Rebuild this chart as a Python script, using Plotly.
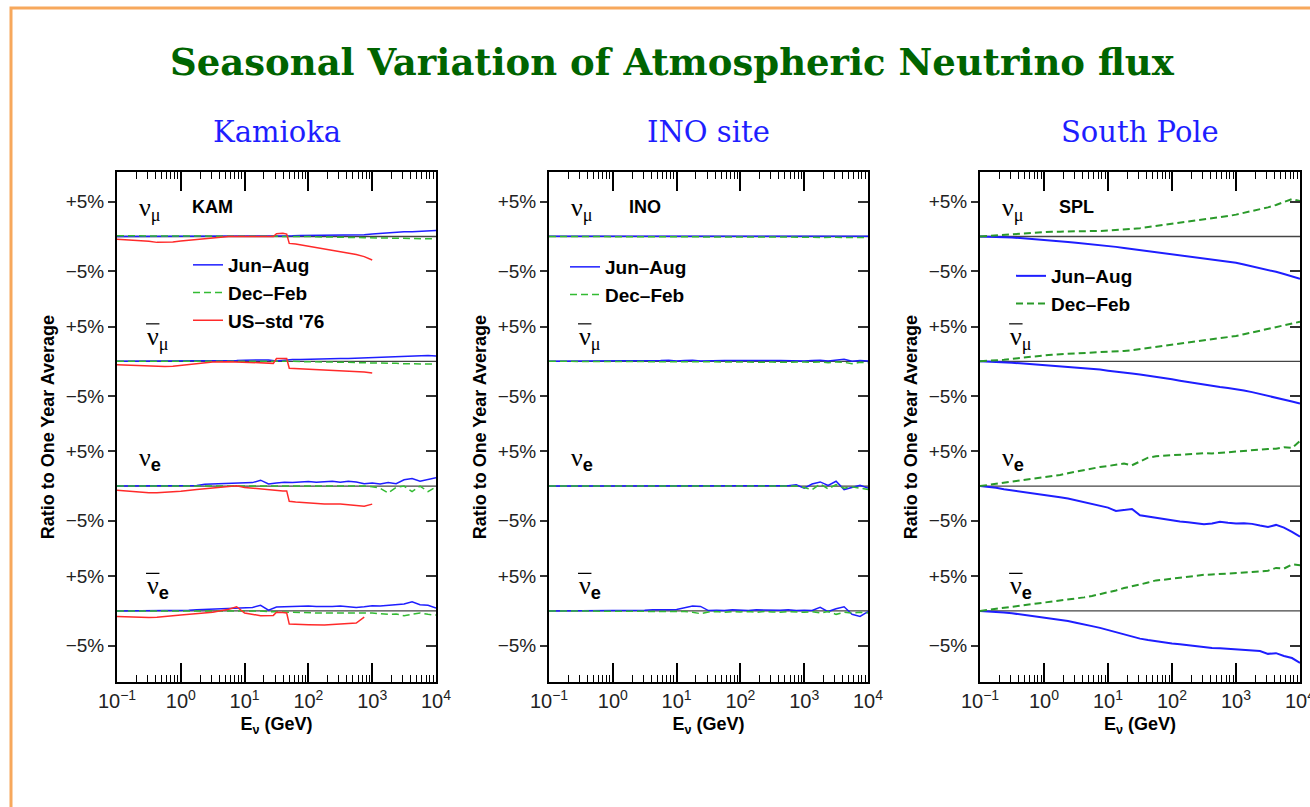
import plotly.graph_objects as go

# ---------------- data ----------------
ENERGY = [0.1, 0.133, 0.178, 0.237, 0.316, 0.422, 0.562, 0.750,
          1.0, 1.33, 1.78, 2.37, 3.16, 4.22, 5.62, 7.50,
          10, 13.3, 17.8, 23.7, 31.6, 42.2, 56.2, 75.0,
          100, 133, 178, 237, 316, 422, 562, 750,
          1000, 1330, 1780, 2370, 3160, 4220, 5620, 7500, 10000]
E_RED = [0.1, 0.178, 0.316, 0.422, 0.562, 0.75, 1.0, 1.78, 3.16, 5.62, 7.5, 10,
         17.8, 28.2, 31.6, 39.8, 45.7, 50.1, 63.1, 100, 178, 316, 562, 750, 1000]

OFFSETS = [0, -18, -36, -54]
PANEL_TITLES = ["Kamioka", "INO site", "South Pole"]
SITE_TAGS = ["KAM", "INO", "SPL"]
SERIES_NAMES = ["Jun\u2013Aug", "Dec\u2013Feb", "US\u2013std '76"]
X_TICK_VALS = [0.1, 1, 10, 100, 1000, 10000]
X_TICK_TEXT = ["10<sup>\u22121</sup>", "10<sup>0</sup>", "10<sup>1</sup>",
               "10<sup>2</sup>", "10<sup>3</sup>", "10<sup>4</sup>"]
Y_TICK_TEXT = ["+5%", "\u22125%"]

# Kamioka (% deviation from yearly average)
kam_numu_jun = [0, 0, 0, 0, 0, 0, 0, 0, 0.05, 0.05, 0.05, 0.05, 0.05, 0.05, 0.05, 0.05,
                0.05, 0.1, 0.1, 0.1, 0.1, 0.1, 0.1, 0.15, 0.15, 0.2, 0.2, 0.2, 0.2, 0.2, 0.2, 0.25,
                0.35, 0.45, 0.6, 0.65, 0.7, 0.7, 0.75, 0.8, 0.85]
kam_numu_dec = [0.1, 0.1, 0.1, 0.1, 0.1, 0.1, 0.1, 0.1, 0.1, 0.1, 0.1, 0.1, 0.1, 0.1, 0.1, 0.1,
                0.1, 0.08, 0.05, 0.05, 0.03, 0.0, 0.0, 0.0, 0.0, -0.05, -0.05, -0.1, -0.1, -0.12, -0.15, -0.18,
                -0.2, -0.22, -0.25, -0.28, -0.3, -0.3, -0.32, -0.35, -0.35]
kam_numu_us = [-0.4, -0.5, -0.7, -0.85, -0.85, -0.8, -0.65, -0.4, -0.15, 0.0, 0.0, 0.0,
               0.05, 0.0, 0.4, 0.45, 0.35, -1.0, -1.1, -1.4, -1.8, -2.2, -2.6, -2.9, -3.4]
kam_anumu_jun = [0, 0, 0, 0, 0, 0, 0, 0, 0.05, 0.05, 0.1, 0.1, 0.1, 0.1, 0.1, 0.1,
                 0.15, 0.15, 0.2, 0.2, 0.05, 0.2, 0.25, 0.25, 0.3, 0.3, 0.35, 0.35, 0.4, 0.4, 0.45, 0.5,
                 0.55, 0.6, 0.65, 0.7, 0.75, 0.8, 0.9, 0.85, 0.75]
kam_anumu_dec = [0, 0, 0, 0, 0, 0, 0, 0.05, 0.05, 0.1, 0.1, 0.1, 0.1, 0.1, 0.1, 0.1,
                 0.1, 0.05, 0.05, 0.05, 0.0, 0.0, 0.0, -0.05, -0.05, -0.1, -0.1, -0.1, -0.15, -0.15, -0.2, -0.2,
                 -0.2, -0.25, -0.25, -0.3, -0.35, -0.35, -0.4, -0.4, -0.4]
kam_anumu_us = [-0.5, -0.6, -0.7, -0.75, -0.75, -0.7, -0.6, -0.3, -0.1, -0.05, -0.1, -0.15,
                -0.25, -0.3, 0.4, 0.45, 0.4, -1.0, -1.05, -1.1, -1.25, -1.35, -1.55, -1.55, -1.7]
kam_nue_jun = [0, 0, 0, 0, 0, 0, 0, 0, 0, 0.05, 0.1, 0.25, 0.3, 0.35, 0.4, 0.45,
               0.4, 0.5, 0.85, 0.3, 0.45, 0.55, 0.5, 0.6, 0.65, 0.55, 0.6, 0.7, 0.55, 0.7, 0.6, 0.35,
               0.45, 0.3, 0.5, 0.35, 0.9, 1.1, 0.7, 0.9, 1.2]
kam_nue_dec = [0, 0, 0, 0, 0, 0, 0, 0, 0.05, 0.05, 0.05, 0.05, 0.05, 0.05, 0.05, 0.05,
               0.05, 0.05, 0.05, 0.0, 0.0, 0.0, 0.0, 0.0, 0.0, 0.0, 0.0, 0.0, 0.0, 0.0, 0.0, 0.0,
               -0.1, -0.3, -1.0, -0.2, 0.0, -0.8, 0.0, -0.8, -0.1]
kam_nue_us = [-0.6, -0.8, -0.95, -0.95, -0.9, -0.8, -0.75, -0.5, -0.25, -0.1, 0.05, -0.2,
              -0.45, -0.6, -0.65, -0.7, -0.7, -2.2, -2.3, -2.45, -2.6, -2.6, -2.85, -2.9, -2.6]
kam_anue_jun = [0, 0, 0, 0, 0, 0, 0, 0, 0, 0.1, 0.15, 0.2, 0.25, 0.25, 0.25, 0.3,
                0.4, 0.5, 0.8, 0.1, 0.55, 0.6, 0.65, 0.65, 0.7, 0.65, 0.6, 0.65, 0.7, 0.6, 0.5, 0.6,
                0.75, 0.7, 0.8, 0.85, 1.0, 1.3, 0.9, 0.8, 0.4]
kam_anue_dec = [0, 0, 0, 0, 0, 0, 0, 0, 0, 0, 0, 0, 0.05, 0.05, 0.05, 0.05,
                0.0, 0.0, 0.0, -0.1, -0.15, -0.2, -0.25, -0.3, -0.3, -0.3, -0.3, -0.35, -0.3, -0.3, -0.35, -0.3,
                -0.3, -0.4, -0.5, -0.45, -0.7, -0.5, -0.3, -0.5, -0.6]
kam_anue_us = [-0.8, -0.9, -0.95, -0.9, -0.85, -0.7, -0.6, -0.45, -0.2, 0.25, 0.6, -0.3,
               -0.7, -0.65, -0.2, -0.25, -0.3, -1.9, -1.95, -2.0, -2.05, -1.85, -1.75, -0.9, None]

# INO site
ino_numu_jun = [0.05, 0.05, 0.05, 0.05, 0.05, 0.05, 0.05, 0.05, 0.05, 0.05, 0.1, 0.1, 0.1, 0.1, 0.1, 0.1,
                0.1, 0.1, 0.1, 0.1, 0.1, 0.1, 0.1, 0.1, 0.1, 0.1, 0.1, 0.05, 0.05, 0.05, 0.05, 0.05,
                0.05, 0.05, 0.05, 0.05, 0.05, 0.05, 0.05, 0.05, 0.05]
ino_numu_dec = [0, 0, 0, 0, 0, 0, 0, -0.05, -0.05, -0.05, -0.1, -0.05, -0.05, -0.1, -0.05, -0.05,
                -0.1, -0.05, -0.1, -0.05, -0.1, -0.05, -0.1, -0.05, -0.1, -0.05, -0.1, -0.1, -0.05, -0.1, -0.1, -0.05,
                -0.1, -0.1, -0.15, -0.1, -0.1, -0.15, -0.15, -0.1, -0.15]
ino_anumu_jun = [0, 0, 0, 0, 0, 0, 0, 0, 0.05, 0.05, 0.05, 0.1, 0.05, 0.1, 0.1, 0.15,
                 0.05, 0.1, 0.15, 0.05, 0.1, 0.05, 0.1, 0.1, 0.05, 0.1, 0.1, 0.05, 0.1, 0.1, 0.05, 0.1,
                 0.05, 0.1, 0.15, 0.05, 0.15, 0.3, 0.0, 0.1, 0.05]
ino_anumu_dec = [0, 0, 0, 0, 0, 0, 0, -0.05, -0.05, -0.05, -0.1, -0.05, -0.1, -0.05, -0.1, -0.05,
                 -0.1, -0.05, -0.1, -0.1, -0.05, -0.1, -0.1, -0.05, -0.1, -0.1, -0.15, -0.1, -0.1, -0.15, -0.1, -0.15,
                 -0.1, -0.15, -0.1, -0.2, -0.1, -0.15, -0.35, -0.15, -0.2]
ino_nue_jun = [0, 0, 0, 0.05, 0, 0.05, 0, 0.05, 0, 0.05, 0, 0.1, 0, 0.05, 0.1, 0,
               0.05, 0.1, 0.05, 0.1, 0, 0.1, 0.05, 0.1, 0.05, 0.0, 0.1, 0.05, 0.0, 0.1, 0.05, 0.2,
               -0.3, 0.3, 0.6, 0.1, 0.7, -0.5, -0.2, 0.1, -0.3]
ino_nue_dec = [0, 0, -0.05, 0, -0.05, 0, -0.05, 0, -0.1, 0, -0.05, -0.1, 0, -0.05, 0, -0.1,
               0, -0.05, -0.1, 0, -0.05, -0.1, 0, -0.05, -0.1, 0, -0.05, -0.1, 0, -0.05, -0.1, 0,
               -0.2, -0.5, 0.3, -0.4, 0.2, -0.3, -0.1, -0.3, -0.5]
ino_anue_jun = [0, 0, 0, 0, 0, 0.05, 0, 0.05, 0, 0.05, 0.1, 0.05, 0.1, 0.15, 0.1, 0.15,
                0.2, 0.45, 0.7, 0.65, 0.05, 0.1, 0.05, 0.15, 0.1, 0.05, 0.15, 0.1, 0.05, 0.1, 0.15, 0.05,
                0.1, 0.05, 0.5, -0.1, 0.3, 0.6, -0.5, -0.8, -0.1]
ino_anue_dec = [0, 0, 0, -0.05, 0, -0.05, 0, -0.05, -0.05, 0, -0.05, -0.1, 0, -0.05, -0.1, -0.05,
                -0.1, -0.1, -0.2, -0.4, -0.15, -0.1, -0.2, -0.1, -0.15, -0.1, -0.2, -0.1, -0.15, -0.2, -0.1, -0.15,
                -0.2, -0.1, -0.3, -0.1, -0.5, -0.2, -0.3, -0.2, -0.3]

# South Pole
spl_numu_jun = [0, -0.02, -0.05, -0.1, -0.15, -0.22, -0.3, -0.4, -0.5, -0.6, -0.7, -0.8, -0.9, -1.0, -1.1, -1.2,
                -1.35, -1.5, -1.65, -1.8, -1.95, -2.1, -2.3, -2.45, -2.6, -2.7, -2.8, -2.95, -3.1, -3.25, -3.4, -3.6,
                -3.8, -4.05, -4.3, -4.55, -4.8, -5.1, -5.4, -5.75, -6.1]
spl_numu_dec = [0, 0.05, 0.1, 0.2, 0.3, 0.4, 0.5, 0.6, 0.65, 0.7, 0.7, 0.7, 0.75, 0.75, 0.8, 0.8,
                0.85, 0.9, 1.0, 1.1, 1.2, 1.35, 1.5, 1.7, 1.85, 2.0, 2.15, 2.3, 2.5, 2.65, 2.8, 2.95,
                3.15, 3.4, 3.7, 3.95, 4.2, 4.55, 4.95, 5.4, 5.1]
spl_anumu_jun = [0, -0.03, -0.08, -0.15, -0.22, -0.3, -0.38, -0.48, -0.58, -0.68, -0.78, -0.87, -0.95, -1.05, -1.12, -1.2,
                 -1.35, -1.45, -1.6, -1.75, -1.9, -2.05, -2.2, -2.4, -2.6, -2.8, -3.0, -3.2, -3.4, -3.55, -3.7, -3.85,
                 -4.0, -4.2, -4.45, -4.7, -5.0, -5.2, -5.5, -5.8, -6.1]
spl_anumu_dec = [0, 0.05, 0.12, 0.22, 0.35, 0.5, 0.65, 0.75, 0.85, 0.95, 1.0, 1.05, 1.1, 1.15, 1.2, 1.25,
                 1.35, 1.45, 1.5, 1.6, 1.75, 1.95, 2.1, 2.25, 2.45, 2.6, 2.75, 2.9, 3.05, 3.2, 3.35, 3.5,
                 3.65, 3.9, 4.15, 4.45, 4.7, 4.95, 5.2, 5.45, 5.7]
spl_nue_jun = [0, -0.1, -0.25, -0.45, -0.6, -0.75, -0.95, -1.1, -1.3, -1.45, -1.6, -1.8, -2.05, -2.3, -2.5, -2.75,
               -3.1, -3.6, -3.5, -3.3, -4.2, -4.4, -4.6, -4.8, -5.0, -5.1, -5.2, -5.35, -5.5, -5.4, -5.15, -5.3,
               -5.4, -5.35, -5.45, -5.7, -5.9, -5.6, -6.0, -6.6, -7.3]
spl_nue_dec = [0, 0.15, 0.3, 0.5, 0.65, 0.85, 1.0, 1.15, 1.3, 1.45, 1.6, 1.85, 2.1, 2.35, 2.6, 2.75,
               2.9, 3.1, 3.25, 3.0, 3.6, 4.1, 4.3, 4.4, 4.5, 4.55, 4.6, 4.65, 4.75, 4.7, 4.8, 4.85,
               4.9, 5.0, 5.1, 5.2, 5.35, 5.4, 5.6, 5.5, 6.5]
spl_anue_jun = [0, -0.05, -0.12, -0.25, -0.35, -0.5, -0.65, -0.8, -0.95, -1.1, -1.25, -1.45, -1.7, -1.9, -2.2, -2.45,
                -2.75, -3.05, -3.4, -3.75, -4.0, -4.2, -4.4, -4.55, -4.7, -4.8, -4.95, -5.1, -5.25, -5.35, -5.4, -5.5,
                -5.5, -5.6, -5.7, -5.8, -6.2, -6.1, -6.5, -6.8, -7.5]
spl_anue_dec = [0, 0.15, 0.3, 0.4, 0.5, 0.7, 0.85, 1.0, 1.15, 1.3, 1.45, 1.6, 1.8, 1.95, 2.15, 2.4,
                2.7, 2.95, 3.3, 3.5, 3.8, 4.1, 4.4, 4.5, 4.65, 4.85, 5.0, 5.1, 5.2, 5.25, 5.3, 5.35,
                5.4, 5.5, 5.6, 5.7, 5.8, 6.2, 6.1, 6.7, 6.6]

PANELS = [
    {"jun": [kam_numu_jun, kam_anumu_jun, kam_nue_jun, kam_anue_jun],
     "dec": [kam_numu_dec, kam_anumu_dec, kam_nue_dec, kam_anue_dec],
     "us": [kam_numu_us, kam_anumu_us, kam_nue_us, kam_anue_us]},
    {"jun": [ino_numu_jun, ino_anumu_jun, ino_nue_jun, ino_anue_jun],
     "dec": [ino_numu_dec, ino_anumu_dec, ino_nue_dec, ino_anue_dec]},
    {"jun": [spl_numu_jun, spl_anumu_jun, spl_nue_jun, spl_anue_jun],
     "dec": [spl_numu_dec, spl_anumu_dec, spl_nue_dec, spl_anue_dec]},
]

# ---------------- style / layout ----------------
W, H = 1310, 807
X_DOM_PX = [(117, 436), (549, 868), (980, 1300)]
Y_DOM_PX = (172, 682.3)
Y_RANGE = [-64.3, 9.3]
BLUE = "#1e1eff"
GREEN_LIGHT = "#33bb33"
GREEN_DARK = "#2a9a2a"
RED = "#ff2a2a"
SANS = "Liberation Sans, Arial, sans-serif"
SERIF = "DejaVu Serif, serif"
LABEL_SERIF = "Liberation Serif, Times New Roman, serif"

fig = go.Figure()

ydom = [1 - Y_DOM_PX[1] / H, 1 - Y_DOM_PX[0] / H]
minor_vals = [m * 10 ** d for d in range(-1, 4) for m in range(2, 10)]
ytickvals = []
yticktext = []
for off in OFFSETS:
    ytickvals += [off + 5, off - 5]
    yticktext += Y_TICK_TEXT

legend_pos = [(188, 246), (565, 248), (1011, 257)]
shapes = []
annotations = []
layout_axes = {}

for p, panel in enumerate(PANELS):
    n = p + 1
    xa = "x" if n == 1 else f"x{n}"
    ya = "y" if n == 1 else f"y{n}"
    yr = f"y{n + 3}"
    leg = "legend" if n == 1 else f"legend{n}"
    green = GREEN_DARK if p == 2 else GREEN_LIGHT
    lw = 2.0 if p == 2 else 1.5

    for s, off in enumerate(OFFSETS):
        fig.add_trace(go.Scatter(
            x=ENERGY, y=[v + off for v in panel["jun"][s]], mode="lines",
            line=dict(color=BLUE, width=lw), name=SERIES_NAMES[0],
            showlegend=(s == 0), legend=leg, xaxis=xa, yaxis=ya, hoverinfo="skip"))
        fig.add_trace(go.Scatter(
            x=ENERGY, y=[v + off for v in panel["dec"][s]], mode="lines",
            line=dict(color=green, width=lw, dash="7px,4px"), name=SERIES_NAMES[1],
            showlegend=(s == 0), legend=leg, xaxis=xa, yaxis=ya, hoverinfo="skip"))
        if "us" in panel:
            fig.add_trace(go.Scatter(
                x=E_RED, y=[None if v is None else v + off for v in panel["us"][s]], mode="lines",
                line=dict(color=RED, width=1.5), name=SERIES_NAMES[2],
                showlegend=(s == 0), legend=leg, xaxis=xa, yaxis=ya, hoverinfo="skip"))
    # empty trace so that the right-hand tick axis is drawn
    fig.add_trace(go.Scatter(x=[], y=[], xaxis=xa, yaxis=yr, showlegend=False, hoverinfo="skip"))

    xdom = [X_DOM_PX[p][0] / W, X_DOM_PX[p][1] / W]
    layout_axes[f"xaxis{'' if n == 1 else n}"] = dict(
        domain=xdom, anchor=ya, type="log", range=[-1, 4], automargin=False,
        tickmode="array", tickvals=X_TICK_VALS, ticktext=X_TICK_TEXT,
        ticklabeloverflow="allow",
        ticks="inside", ticklen=19, tickwidth=1.5, tickcolor="black",
        minor=dict(tickmode="array", tickvals=minor_vals, ticks="inside", ticklen=7,
                   tickwidth=1.2, tickcolor="black", showgrid=False),
        showline=True, linecolor="black", linewidth=2, mirror="ticks",
        showgrid=False, zeroline=False,
        tickfont=dict(family=SANS, size=20, color="#222"),
        title=dict(text="E<sub>\u03bd</sub> (GeV)", standoff=6,
                   font=dict(family=SANS, size=18, color="black", weight="bold")),
    )
    layout_axes[f"yaxis{'' if n == 1 else n}"] = dict(
        domain=ydom, anchor=xa, range=Y_RANGE, automargin=False,
        tickmode="array", tickvals=ytickvals, ticktext=yticktext,
        ticks="outside", ticklen=7, tickwidth=1.5, tickcolor="#333",
        showline=True, linecolor="black", linewidth=2, mirror=True,
        showgrid=False, zeroline=False,
        tickfont=dict(family=SANS, size=19, color="#222"),
        title=dict(text="Ratio to One Year Average", standoff=6,
                   font=dict(family=SANS, size=18, color="black", weight="bold")),
    )
    layout_axes[f"yaxis{n + 3}"] = dict(
        domain=ydom, anchor=xa, overlaying=ya, side="right", range=Y_RANGE, automargin=False,
        tickmode="array", tickvals=ytickvals, ticks="inside", ticklen=10,
        tickwidth=1.5, tickcolor="#333", showticklabels=False,
        showline=False, showgrid=False, zeroline=False,
    )

    # zero reference lines
    for off in OFFSETS:
        shapes.append(dict(type="line", xref=f"{xa} domain", yref=ya, x0=0, x1=1, y0=off, y1=off,
                           line=dict(color="#444", width=1.3), layer="below"))

    # species labels
    label_texts = ["\u03bd<sub>\u03bc</sub>", "\u03bd<sub>\u03bc</sub>",
                   "\u03bd<sub><span style='font-family:Liberation Sans;font-weight:bold'>e</span></sub>",
                   "\u03bd<sub><span style='font-family:Liberation Sans;font-weight:bold'>e</span></sub>"]
    for s, off in enumerate(OFFSETS):
        anti = s in (1, 3)
        lx = 0.088 if anti else 0.062
        ly = off + (3.4 if anti else 3.9)
        annotations.append(dict(text=label_texts[s], xref=f"{xa} domain", yref=ya, x=lx, y=ly,
                                xanchor="left", yanchor="middle", showarrow=False,
                                font=dict(family=LABEL_SERIF, size=26, color="black")))
        if anti:
            shapes.append(dict(type="line", xref=f"{xa} domain", yref=ya,
                               x0=lx + 0.003, x1=lx + 0.045, y0=off + 5.4, y1=off + 5.4,
                               line=dict(color="black", width=1.2)))
    annotations.append(dict(text=f"<b>{SITE_TAGS[p]}</b>", xref=f"{xa} domain", yref=ya,
                            x=0.30, y=4.2, xanchor="center", yanchor="middle", showarrow=False,
                            font=dict(family=SANS, size=18, color="black")))
    # panel title
    annotations.append(dict(text=PANEL_TITLES[p], xref="paper", yref="paper",
                            x=(X_DOM_PX[p][0] + X_DOM_PX[p][1]) / 2 / W, y=1 - 132 / H,
                            xanchor="center", yanchor="middle", showarrow=False,
                            font=dict(family=SERIF, size=29, color=BLUE)))
    lx_px, ly_px = legend_pos[p]
    layout_axes[leg] = dict(x=lx_px / W, y=1 - ly_px / H, xanchor="left", yanchor="top",
                            bgcolor="rgba(0,0,0,0)", borderwidth=0, tracegroupgap=0,
                            font=dict(family=SANS, size=19, color="black", weight="bold"))

annotations.append(dict(text="Seasonal Variation of Atmospheric Neutrino flux", xref="paper", yref="paper",
                        x=672 / W, y=1 - 62 / H, xanchor="center", yanchor="middle", showarrow=False,
                        font=dict(family=SERIF, size=37, color="#006400", weight="bold")))

# slide frame
shapes.append(dict(type="rect", xref="paper", yref="paper", x0=11 / W, x1=1.05, y0=-0.05, y1=1 - 8 / H,
                   line=dict(color="#f7a85c", width=3), layer="below"))

fig.update_layout(
    width=W, height=H, autosize=False,
    margin=dict(l=0, r=0, t=0, b=0),
    paper_bgcolor="white", plot_bgcolor="white",
    shapes=shapes, annotations=annotations,
    **layout_axes,
)

fig.write_html("out.html", config={"displayModeBar": False},
               post_script="document.body.style.margin='0';document.body.style.overflow='hidden';")
